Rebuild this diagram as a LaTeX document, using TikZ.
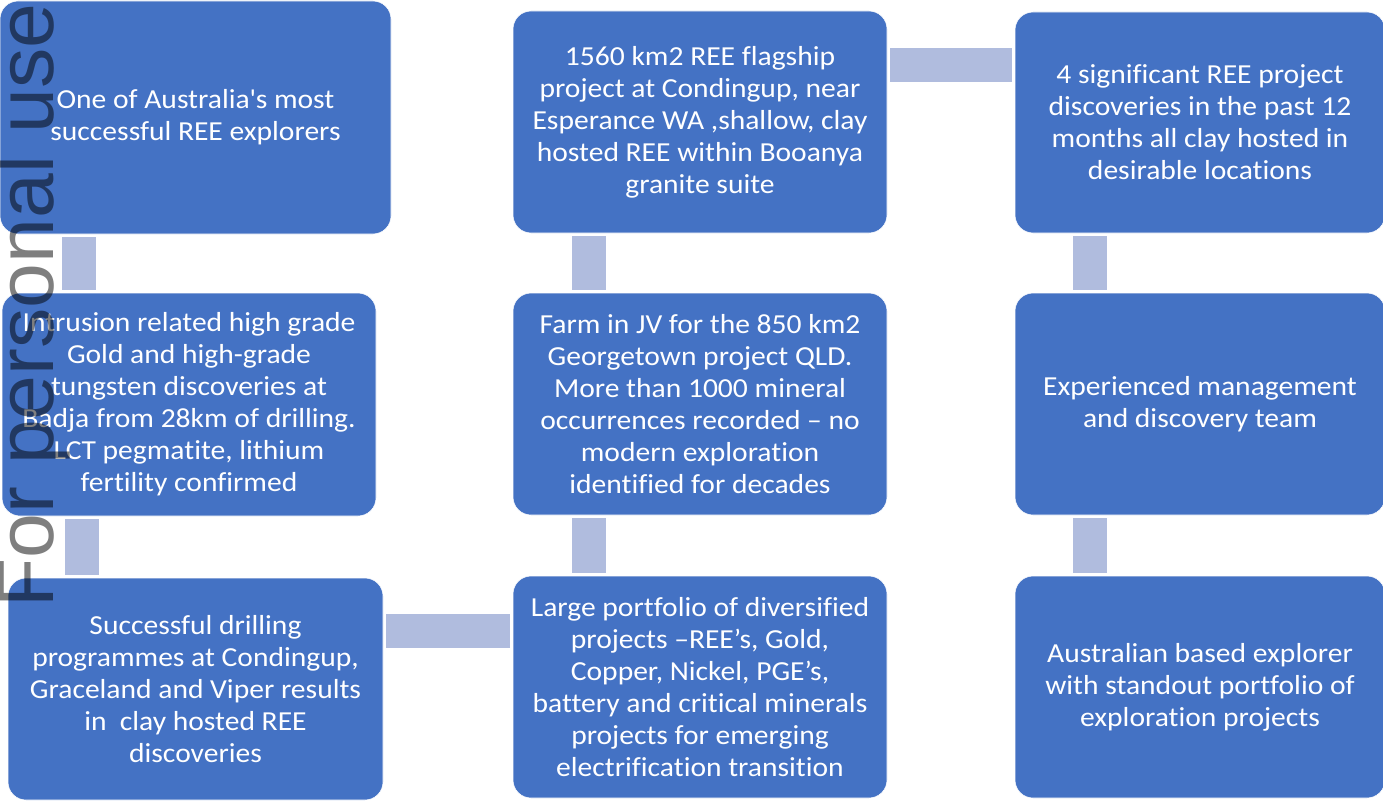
\documentclass[tikz,border=0pt]{standalone}
\usepackage{fontspec}
\setmainfont{Carlito}[FakeStretch=1.075, Ligatures=CommonOff]
\newfontfamily\wmfont{Liberation Sans}
\definecolor{boxblue}{RGB}{68,114,196}
\definecolor{connblue}{RGB}{176,188,222}
\begin{document}
\begin{tikzpicture}[x=1pt,y=-1pt,
  infobox/.style={rectangle, rounded corners=18pt, fill=boxblue, draw=white, line width=0.6pt,
    text=white, align=center, inner sep=0pt,
    font=\fontsize{27.5}{32}\selectfont},
  conn/.style={draw=connblue, line width=34pt, line cap=butt, shorten <=3pt, shorten >=3pt}]
\useasboundingbox (0,0) rectangle (1383,800);
\fill[white] (0,0) rectangle (1383,800);
% boxes
\node[infobox, minimum width=391pt, minimum height=233pt] (TL) at (195.5,117.5)
  {One of Australia\textquotesingle s most\\successful REE explorers};
\node[infobox, minimum width=374pt, minimum height=223pt] (ML) at (189,404.5)
  {Intrusion related high grade\\Gold and high-grade\\tungsten discoveries at\\Badja from 28km of drilling.\\LCT pegmatite, lithium\\fertility confirmed};
\node[infobox, minimum width=375pt, minimum height=222pt] (BL) at (195.5,689)
  {Successful drilling\\programmes at Condingup,\\Graceland and Viper results\\in\ \ clay hosted REE\\discoveries};
\node[infobox, minimum width=374pt, minimum height=222pt] (TM) at (700,122)
  {1560 km2 REE flagship\\project at Condingup, near\\Esperance WA ,shallow, clay\\hosted REE within Booanya\\granite suite};
\node[infobox, minimum width=374pt, minimum height=222pt] (MM) at (700,404)
  {Farm in JV for the 850 km2\\Georgetown project QLD.\\More than 1000 mineral\\occurrences recorded -- no\\modern exploration\\identified for decades};
\node[infobox, minimum width=374pt, minimum height=222pt] (BM) at (700,687)
  {Large portfolio of diversified\\projects --REE’s, Gold,\\Copper, Nickel, PGE’s,\\battery and critical minerals\\projects for emerging\\electrification transition};
\node[infobox, minimum width=370pt, minimum height=221pt] (TR) at (1200,122.5)
  {4 significant REE project\\discoveries in the past 12\\months all clay hosted in\\desirable locations};
\node[infobox, minimum width=370pt, minimum height=222pt] (MR) at (1200,404)
  {Experienced management\\and discovery team};
\node[infobox, minimum width=370pt, minimum height=222pt] (BR) at (1200,687)
  {Australian based explorer\\with standout portfolio of\\exploration projects};
% connectors
\draw[conn] (TL.south -| 79,0) -- (ML.north -| 79,0);
\draw[conn] (ML.south -| 81.5,0) -- (BL.north -| 81.5,0);
\draw[conn] (BL.east |- 0,631) -- (BM.west |- 0,631);
\draw[conn] (BM.north -| 588.5,0) -- (MM.south -| 588.5,0);
\draw[conn] (MM.north -| 588.5,0) -- (TM.south -| 588.5,0);
\draw[conn] (TM.east |- 0,65) -- (TR.west |- 0,65);
\draw[conn] (TR.south -| 1090,0) -- (MR.north -| 1090,0);
\draw[conn] (MR.south -| 1090,0) -- (BR.north -| 1090,0);
% watermark
\node[rotate=90, anchor=base west, inner sep=0pt, text=black, text opacity=0.5,
  font=\wmfont\fontsize{80.5}{80.5}\selectfont] (wm) at (53,608) {For personal use};
\end{tikzpicture}
\end{document}
